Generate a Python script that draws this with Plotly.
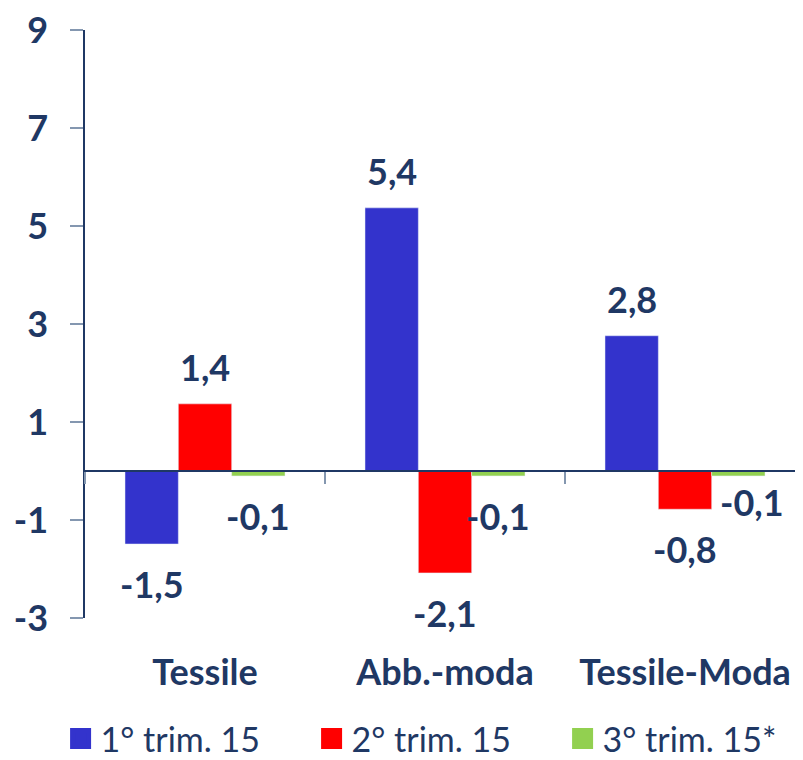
import plotly.graph_objects as go

categories = ["Tessile", "Abb.-moda", "Tessile-Moda"]
series_names = ["1° trim. 15", "2° trim. 15", "3° trim. 15*"]
trim1 = [-1.49, 5.37, 2.76]
trim2 = [1.37, -2.08, -0.78]
trim3 = [-0.1, -0.1, -0.1]
y_ticks = [-3, -1, 1, 3, 5, 7, 9]
y_tick_text = ["-3", "-1", "1", "3", "5", "7", "9"]

series_values = [trim1, trim2, trim3]
colors = ["#3333CC", "#FF0000", "#92D050"]
navy = "#1F3864"
FONT = "Lato"

# label offsets (style only): (x shift in category units, y shift in px)
label_style = [
    [None, None, None],
    [None, None, None],
    [None, None, (0.058, -26)],
]

fig = go.Figure()
for name, vals, col in zip(series_names, series_values, colors):
    fig.add_trace(go.Bar(x=categories, y=vals, name=name, marker_color=col,
                         showlegend=False, hoverinfo="skip"))
    # legend proxy
    fig.add_trace(go.Scatter(x=[None], y=[None], mode="markers", name=name,
                             marker=dict(symbol="square", size=16, color=col,
                                         line=dict(color=col, width=5))))

# invisible trace to carry the zero-line category axis
fig.add_trace(go.Scatter(x=categories, y=[0, 0, 0], xaxis="x2", mode="lines",
                         line=dict(width=0), showlegend=False, hoverinfo="skip"))

bargap = 1 / 3
bw = (1 - bargap) / 3
annotations = []
for k, vals in enumerate(series_values):
    for i, v in enumerate(vals):
        dx, dy = 0, (37 if v >= 0 else -40)
        st = label_style[k][i]
        if st is not None:
            dx, dy = st
        annotations.append(dict(
            x=i + (k - 1) * bw + dx, y=v, xref="x", yref="y",
            text=f"{v:.1f}".replace(".", ","), showarrow=False,
            yshift=dy, yanchor="middle", xanchor="center",
            font=dict(family=FONT, size=36, color=navy, weight="bold")))

xrange = [-0.5, 2.5 - 2 / 240]
fig.update_layout(
    width=795, height=752,
    margin=dict(l=77, r=0, t=22, b=142, autoexpand=False),
    plot_bgcolor="white", paper_bgcolor="white",
    barmode="group", bargap=bargap, bargroupgap=0,
    annotations=annotations,
    showlegend=True,
    legend=dict(orientation="h", x=-0.034, xanchor="left", y=-0.2058, yanchor="middle",
                font=dict(family=FONT, size=34, color=navy),
                entrywidth=206, entrywidthmode="pixels",
                bgcolor="rgba(0,0,0,0)"),
    xaxis=dict(range=xrange, showline=False, ticks="", showgrid=False,
               zeroline=False, ticklabelstandoff=30, automargin=False,
               ticklabeloverflow="allow",
               tickfont=dict(family=FONT, size=36, color=navy, weight="bold")),
    xaxis2=dict(range=xrange, overlaying="x", anchor="free", position=0.25,
                side="bottom", showline=True, linecolor=navy, linewidth=1.5,
                ticks="outside", tickson="boundaries", ticklen=12,
                tickcolor="#8497B0", tickwidth=1.5, showticklabels=False,
                showgrid=False, zeroline=False, automargin=False),
    yaxis=dict(range=[-3, 9], tickvals=y_ticks, ticktext=y_tick_text,
               showline=True, linecolor=navy, automargin=False,
               linewidth=1.5, ticks="outside", ticklen=13, tickcolor="#8497B0",
               tickwidth=1.5, showgrid=False, zeroline=False,
               ticklabelstandoff=15, ticklabeloverflow="allow",
               tickfont=dict(family=FONT, size=36, color=navy, weight="bold")),
)

fig.write_html("out.html")
